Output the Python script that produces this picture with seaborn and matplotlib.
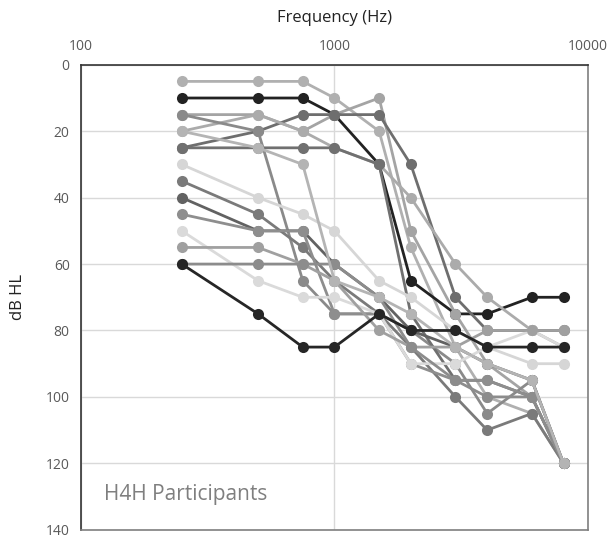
import matplotlib
matplotlib.use("Agg")
import matplotlib.pyplot as plt
import seaborn as sns
import pandas as pd

# Audiometric test frequencies (Hz)
freqs = [250, 500, 750, 1000, 1500, 2000, 3000, 4000, 6000, 8000]

# Hearing thresholds (dB HL) per participant
p01 = [5, 5, 5, 10, 20, 55, 85, 100, 105, 120]
p02 = [10, 10, 10, 15, 30, 65, 75, 75, 70, 70]
p03 = [15, 15, 20, 15, 10, 50, 75, 90, 100, 120]
p04 = [25, 20, 15, 15, 15, 30, 70, 80, 80, 80]
p05 = [20, 15, 20, 25, 30, 40, 60, 70, 80, 85]
p06 = [15, 20, 65, 75, 75, 80, 90, 105, 95, 120]
p07 = [25, 25, 25, 25, 30, 75, 95, 95, 100, 120]
p08 = [30, 40, 45, 50, 65, 70, 80, 85, 90, 90]
p09 = [35, 45, 55, 65, 75, 85, 100, 110, 105, 120]
p10 = [40, 50, 50, 60, 70, 80, 85, 90, 95, 120]
p11 = [45, 50, 50, 75, 75, 90, 95, 95, 100, 120]
p12 = [50, 65, 70, 70, 75, 90, 90, 85, 80, 85]
p13 = [55, 55, 60, 65, 80, 85, 85, 80, 80, 80]
p14 = [60, 60, 60, 60, 70, 85, 95, 100, 100, 120]
p15 = [20, 25, 30, 65, 70, 75, 85, 90, 95, 120]
p16 = [60, 75, 85, 85, 75, 80, 80, 85, 85, 85]

participants = ["P01", "P02", "P03", "P04", "P05", "P06", "P07", "P08",
                "P09", "P10", "P11", "P12", "P13", "P14", "P15", "P16"]
thresholds = [p01, p02, p03, p04, p05, p06, p07, p08,
              p09, p10, p11, p12, p13, p14, p15, p16]
shades = ["#b0b0b0", "#222222", "#a4a4a4", "#6e6e6e", "#ababab",
          "#8a8a8a", "#707070", "#d6d6d6", "#7a7a7a", "#626262",
          "#8e8e8e", "#dadada", "#a0a0a0", "#8c8c8c", "#b4b4b4",
          "#262626"]

rows = []
for name, vals in zip(participants, thresholds):
    for f, v in zip(freqs, vals):
        rows.append({"participant": name, "freq": f, "db": v})
df = pd.DataFrame(rows)

sns.set_style("white")
plt.rcParams["font.family"] = ["Open Sans", "DejaVu Sans"]

fig = plt.figure(figsize=(6.12, 5.4), dpi=100)
ax = fig.add_axes([0.132, 0.019, 0.829, 0.861])

sns.lineplot(data=df, x="freq", y="db", hue="participant",
             hue_order=participants, palette=dict(zip(participants, shades)),
             marker="o", markersize=8, markeredgewidth=0, linewidth=2,
             estimator=None, sort=False, legend=False, ax=ax)

ax.set_xscale("log")
ax.set_xlim(100, 10000)
ax.set_ylim(140, 0)
ax.set_yticks(range(0, 141, 20))
ax.set_xticks([100, 1000, 10000])
ax.set_xticklabels(["100", "1000", "10000"])
ax.xaxis.set_minor_locator(matplotlib.ticker.NullLocator())
ax.xaxis.tick_top()
ax.xaxis.set_label_position("top")
ax.set_xlabel("Frequency (Hz)", fontsize=12, color="#222222", labelpad=12)
ax.set_ylabel("dB HL", fontsize=12, color="#222222", labelpad=14)
ax.tick_params(axis="both", length=0, labelsize=10, labelcolor="#595959", pad=8)

ax.grid(True, which="major", color="#d9d9d9", linewidth=1)
ax.set_axisbelow(True)
for side in ["left", "top"]:
    ax.spines[side].set_color("#333333")
    ax.spines[side].set_linewidth(1.2)
for side in ["right", "bottom"]:
    ax.spines[side].set_color("#7f7f7f")
    ax.spines[side].set_linewidth(1.2)

ax.text(0.045, 0.075, "H4H Participants", transform=ax.transAxes,
        fontsize=15, color="#7f7f7f", ha="left", va="center")

fig.savefig("out.png", dpi=100)
